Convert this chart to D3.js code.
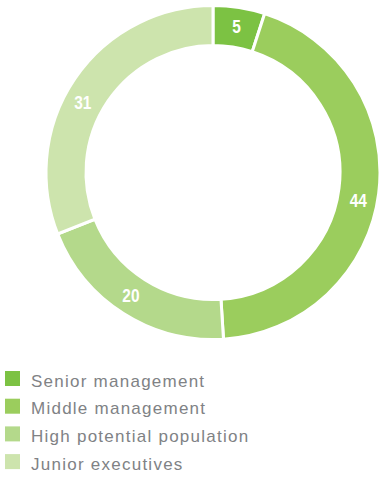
<!DOCTYPE html>
<html>
<head>
<meta charset="utf-8">
<script src="https://cdn.jsdelivr.net/npm/d3@7"></script>
<style>
  html, body { margin: 0; padding: 0; background: #fff; }
  svg { display: block; }
</style>
</head>
<body>
<svg id="chart" width="379" height="477"></svg>
<script>
// Share of participants by group (per cent)
const categories = ["Senior management", "Middle management", "High potential population", "Junior executives"];
const values = [5, 44, 20, 31];
const colors = ["#7cc243", "#9bcd5d", "#b4d98b", "#cde4ad"];

const svg = d3.select("#chart");
const cx = 213, cy = 172.5;
const outerR = 167, innerR = 127;

const pie = d3.pie().sort(null).value(d => d.value);
const arcs = pie(categories.map((c, i) => ({ name: c, value: values[i], color: colors[i] })));

const arc = d3.arc().innerRadius(innerR).outerRadius(outerR);

const ring = svg.append("g").attr("transform", `translate(${cx},${cy})`);

ring.selectAll("path")
  .data(arcs)
  .join("path")
  .attr("d", arc)
  .attr("fill", d => d.data.color)
  .attr("stroke", "#fff")
  .attr("stroke-width", 3)
  .attr("stroke-linejoin", "miter");

// value labels sit inside the band, nudged along it a little for balance
const labelNudge = [0.2, 3.8, 1.3, -5.8]; // degrees
const labelR = 148;
ring.selectAll("text")
  .data(arcs)
  .join("text")
  .attr("transform", (d, i) => {
    const a = (d.startAngle + d.endAngle) / 2 + labelNudge[i] * Math.PI / 180;
    return `translate(${labelR * Math.sin(a)},${-labelR * Math.cos(a)}) scale(0.86,1)`;
  })
  .attr("text-anchor", "middle")
  .attr("dy", "0.36em")
  .attr("fill", "#fff")
  .attr("font-family", "'Liberation Sans', Arial, sans-serif")
  .attr("font-weight", "bold")
  .attr("font-size", 18)
  .text(d => d.data.value);

// legend
const legend = svg.append("g").attr("transform", "translate(5,371)");
const row = legend.selectAll("g")
  .data(arcs)
  .join("g")
  .attr("transform", (d, i) => `translate(0,${i * 27.7})`);

row.append("rect")
  .attr("width", 15)
  .attr("height", 15)
  .attr("fill", d => d.data.color);

row.append("text")
  .attr("x", 26)
  .attr("y", 15.5)
  .attr("fill", "#808285")
  .attr("font-family", "'Liberation Sans', Arial, sans-serif")
  .attr("font-size", 17)
  .attr("letter-spacing", 1.25)
  .text(d => d.data.name);
</script>
</body>
</html>
